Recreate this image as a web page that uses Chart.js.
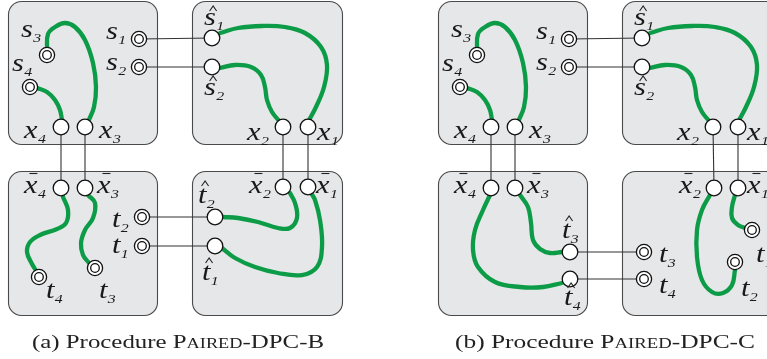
<!DOCTYPE html>
<html><head><meta charset="utf-8">
<script src="https://cdn.jsdelivr.net/npm/chart.js@4/dist/chart.umd.min.js"></script>
<style>html,body{margin:0;padding:0;background:#fff;}canvas{display:block;}</style>
</head><body>
<canvas id="c" width="767" height="359"></canvas>
<script>
// ---- data ----
const boxes = [[8,1,157,144],[192,1,342,144],[8,171,157,315],[192,171,342,315],
               [438,1,587,144],[622,1,780,144],[438,171,587,315],[622,171,780,315]];
const terminals = [[47,55],[30,87],[139,39],[139,67],[142,217],[142,246],[39,277],[95,268],
                   [477,55],[460,87],[569,39],[569,67],[644,252],[644,279],[752,230],[735,262]];
const ports = [[61,127],[85,127],[212,38],[212,67],[283,127],[308,127],[61,188],[85,188],[283,187],[308,187],[215,217],[215,246],
               [491,127],[515,127],[642,38],[642,67],[713,127],[738,127],[491,188],[515,188],[714,188],[738,188],[570,252],[570,279]];
const links = [[[139,39],[212,38]],[[139,67],[212,67]],[[61,127],[61,188]],[[85,127],[85,188]],[[283,127],[283,187]],[[308,127],[308,187]],[[142,217],[215,217]],[[142,246],[215,246]],
               [[569,39],[642,38]],[[569,67],[642,67]],[[491,127],[491,188]],[[515,127],[515,188]],[[713,127],[714,188]],[[738,127],[738,188]],[[570,252],[644,252]],[[570,279],[644,279]]];
const pathS3X3 = [[47,50],[48,34],[55,27],[65,23],[75,27],[85,40],[93,63],[96,87],[94,107],[88,122]];
const pathS4X4 = [[37,88],[47,92],[55,100],[60,110],[62,120]];
const pathS1X1 = [[220,33],[238,28],[262,26],[285,27],[305,33],[321,47],[327,65],[324,87],[316,107],[308,122]];
const pathS2X2 = [[220,68],[235,65],[251,67],[261,75],[265,87],[267,100],[272,112],[280,122]];
const pathX4T4a = [[63,197],[68,210],[66,223],[57,229],[40,235],[30,242],[27,252],[32,264],[37,272]];
const pathX3T3a = [[88,195],[95,203],[93,218],[85,230],[81,243],[83,255],[89,263]];
const pathT2X2a = [[223,217],[238,218],[258,222],[278,228],[290,228],[297,218],[295,203],[290,193]];
const pathT1X1a = [[222,248],[235,258],[255,267],[278,273],[302,275],[317,267],[322,247],[320,220],[315,200],[311,193]];
const pathX4T4b = [[490,195],[483,210],[475,230],[473,250],[478,267],[495,282],[520,287],[543,287],[562,283]];
const pathX3T3b = [[520,195],[528,207],[531,223],[533,240],[540,249],[550,253],[562,252]];
const pathX2T2b = [[710,195],[702,210],[697,230],[697,257],[702,280],[712,292],[723,293],[732,285],[735,270]];
const pathX1T1b = [[735,195],[732,207],[732,218],[738,225],[745,228]];
const shiftB = 430;
const greenPaths = [pathS3X3, pathS4X4, pathS1X1, pathS2X2, pathX4T4a, pathX3T3a, pathT2X2a, pathT1X1a,
  pathS3X3.map(p=>[p[0]+shiftB,p[1]]), pathS4X4.map(p=>[p[0]+shiftB,p[1]]),
  pathS1X1.map(p=>[p[0]+shiftB,p[1]]), pathS2X2.map(p=>[p[0]+shiftB,p[1]]),
  pathX4T4b, pathX3T3b, pathX2T2b, pathX1T1b];
// labels: letter, subscript, mark, x, baseline
const labelsA = [['s','3','',21,37],['s','4','',12,71],['s','1','',106,39],['s','2','',106,70],['x','4','',24,138],['x','3','',99,138],
  ['s','1','^',204,25],['s','2','^',204,95],['x','2','',247,140],['x','1','',317,140],
  ['x','4','-',24,193],['x','3','-',97,193],['t','2','',112,227],['t','1','',112,253],['t','4','',46,298],['t','3','',99,298],
  ['t','2','^',198,203],['t','1','^',202,280],['x','2','-',249,193],['x','1','-',316,193]];
const labelsB = [['s','3','',451,37],['s','4','',442,71],['s','1','',536,39],['s','2','',536,70],['x','4','',454,138],['x','3','',529,138],
  ['s','1','^',634,25],['s','2','^',634,95],['x','2','',677,140],['x','1','',747,140],
  ['x','4','-',454,193],['x','3','-',527,193],['t','3','^',562,238],['t','4','^',564,305],
  ['x','2','-',679,193],['x','1','-',747,193],['t','3','',659,262],['t','4','',659,293],['t','2','',741,296],['t','1','',756,262]];
// caption: prefix, small-caps word, suffix, left, right, baseline
const captions = [['(a) Procedure ','Paired','-DPC-B',32,324,348],['(b) Procedure ','Paired','-DPC-C',455,755,348]];

// ---- chart ----
const pts = a => a.map(p=>({x:p[0],y:p[1]}));
const GREEN = '#0c9c48';
const datasets = [];
datasets.push({data:pts(terminals),showLine:false,pointRadius:4.3,pointBackgroundColor:'#fff',pointBorderColor:'#111',pointBorderWidth:1.3,clip:false});
datasets.push({data:pts(terminals),showLine:false,pointRadius:7.6,pointBackgroundColor:'#fff',pointBorderColor:'#111',pointBorderWidth:1.3,clip:false});
datasets.push({data:pts(ports),showLine:false,pointRadius:7.8,pointBackgroundColor:'#fff',pointBorderColor:'#111',pointBorderWidth:1.3,clip:false});
greenPaths.forEach(p=>datasets.push({data:pts(p),showLine:true,borderColor:GREEN,borderWidth:4.3,tension:0.4,pointRadius:0,borderCapStyle:'round',clip:false}));
links.forEach(l=>datasets.push({data:pts(l),showLine:true,borderColor:'#333',borderWidth:1.1,tension:0,pointRadius:0,clip:false}));

const deco = {
  id:'deco',
  beforeDatasetsDraw(chart){
    const {ctx,scales:{x,y}} = chart;
    ctx.save();
    boxes.forEach(b=>{
      const x0=x.getPixelForValue(b[0]),y0=y.getPixelForValue(b[1]),x1=x.getPixelForValue(b[2]),y1=y.getPixelForValue(b[3]);
      ctx.beginPath();
      ctx.roundRect(x0+0.5,y0+0.5,x1-x0,y1-y0,13);
      ctx.fillStyle='#e6e7e8';ctx.fill();
      ctx.strokeStyle='#4a4a4a';ctx.lineWidth=1.1;ctx.stroke();
    });
    ctx.restore();
  },
  afterDatasetsDraw(chart){
    const {ctx,scales:{x,y}} = chart;
    ctx.save();
    ctx.fillStyle='#1a1a1a';ctx.strokeStyle='#222';
    const SX=1.22;
    [...labelsA,...labelsB].forEach(l=>{
      const px=x.getPixelForValue(l[3]),py=y.getPixelForValue(l[4]);
      ctx.save();ctx.translate(px,py);ctx.scale(SX,1);
      ctx.font='italic 25px "Liberation Serif"';
      const w=ctx.measureText(l[0]).width;
      ctx.fillText(l[0],0,0);
      ctx.font='italic 13px "Liberation Serif"';
      ctx.fillText(l[1],w+0.3,5);
      ctx.restore();
      ctx.lineWidth=1.1;
      if(l[2]==='^'){
        const cx=px+w*SX*0.6+2, ty=py-(l[0]==='t'?22:19);
        ctx.beginPath();ctx.moveTo(cx-3.5,ty+5);ctx.lineTo(cx,ty);ctx.lineTo(cx+3.5,ty+5);ctx.stroke();
      } else if(l[2]==='-'){
        const cx=px+w*SX*0.55+2, ty=py-19.5;
        ctx.beginPath();ctx.moveTo(cx-4,ty);ctx.lineTo(cx+4,ty);ctx.stroke();
      }
    });
    captions.forEach(c=>{
      const x0=x.getPixelForValue(c[3]),x1=x.getPixelForValue(c[4]),py=y.getPixelForValue(c[5]);
      const big='19px "Liberation Serif"', small='14px "Liberation Serif"';
      const sc=c[1].slice(1).toUpperCase();
      const parts=[[c[0],big],[c[1][0],big],[sc,small],[c[2],big]];
      let total=0;parts.forEach(p=>{ctx.font=p[1];total+=ctx.measureText(p[0]).width;});
      ctx.save();ctx.translate(x0,py);ctx.scale((x1-x0)/total,1);
      let px=0;ctx.fillStyle='#222';
      parts.forEach(p=>{ctx.font=p[1];ctx.fillText(p[0],px,0);px+=ctx.measureText(p[0]).width;});
      ctx.restore();
    });
    ctx.restore();
  }
};

new Chart(document.getElementById('c'),{
  type:'line',
  data:{datasets},
  options:{
    responsive:false,animation:false,devicePixelRatio:1,
    layout:{padding:0,autoPadding:false},
    plugins:{legend:{display:false},tooltip:{enabled:false}},
    scales:{x:{type:'linear',min:0,max:767,display:false},y:{type:'linear',min:0,max:359,reverse:true,display:false}}
  },
  plugins:[deco]
});
</script>
</body></html>
